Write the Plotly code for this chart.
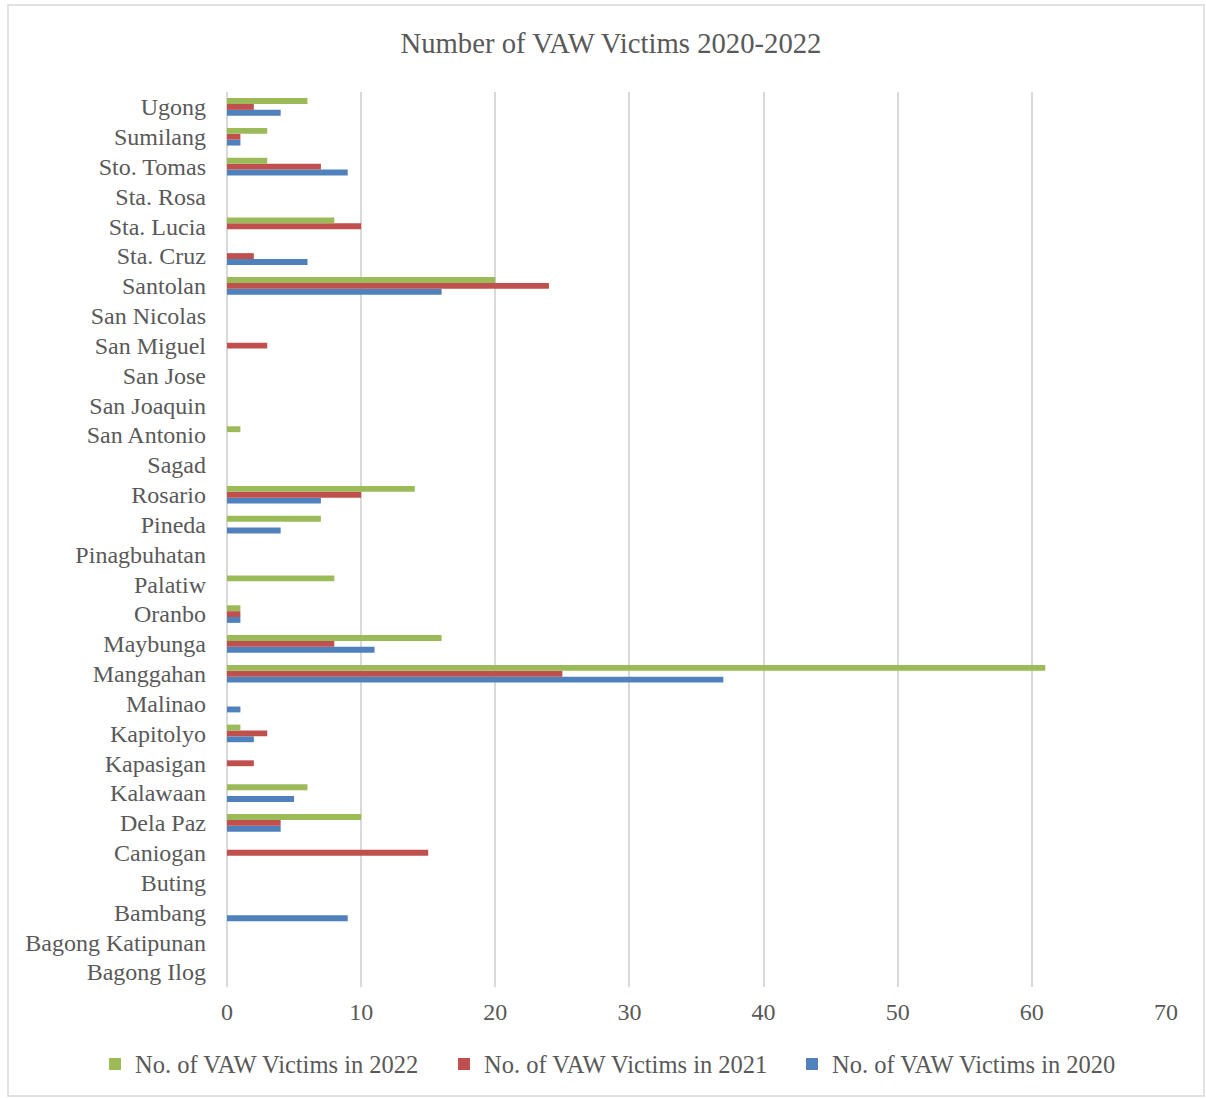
import plotly.graph_objects as go

categories = ["Bagong Ilog", "Bagong Katipunan", "Bambang", "Buting", "Caniogan",
              "Dela Paz", "Kalawaan", "Kapasigan", "Kapitolyo", "Malinao",
              "Manggahan", "Maybunga", "Oranbo", "Palatiw", "Pinagbuhatan",
              "Pineda", "Rosario", "Sagad", "San Antonio", "San Joaquin",
              "San Jose", "San Miguel", "San Nicolas", "Santolan", "Sta. Cruz",
              "Sta. Lucia", "Sta. Rosa", "Sto. Tomas", "Sumilang", "Ugong"]

victims_2020 = [0, 0, 9, 0, 0, 4, 5, 0, 2, 1, 37, 11, 1, 0, 0, 4, 7, 0, 0, 0,
                0, 0, 0, 16, 6, 0, 0, 9, 1, 4]
victims_2021 = [0, 0, 0, 0, 15, 4, 0, 2, 3, 0, 25, 8, 1, 0, 0, 0, 10, 0, 0, 0,
                0, 3, 0, 24, 2, 10, 0, 7, 1, 2]
victims_2022 = [0, 0, 0, 0, 0, 10, 6, 0, 1, 0, 61, 16, 1, 8, 0, 7, 14, 0, 1, 0,
                0, 0, 0, 20, 0, 8, 0, 3, 3, 6]

x_ticks = [0, 10, 20, 30, 40, 50, 60, 70]

series = [
    ("No. of VAW Victims in 2020", victims_2020, "#4F81BD", "legend3", 792),
    ("No. of VAW Victims in 2021", victims_2021, "#C0504D", "legend2", 444),
    ("No. of VAW Victims in 2022", victims_2022, "#9BBB59", "legend", 95),
]

FONT = "Liberation Serif, Times New Roman, serif"
GREY = "#595959"

fig = go.Figure()
legend_layouts = {}
for name, vals, col, leg, lx in series:
    fig.add_trace(go.Bar(
        y=categories, x=vals, name=name, orientation="h", legend=leg,
        marker=dict(color=col, line=dict(width=0)),
    ))
    legend_layouts[leg] = dict(
        orientation="h", xref="container", yref="container",
        x=lx / 1206, xanchor="left", y=1 - 1064 / 1098, yanchor="middle",
        bgcolor="rgba(0,0,0,0)", itemwidth=30,
        font=dict(family=FONT, size=24.5, color=GREY),
    )

fig.update_layout(
    width=1206, height=1098,
    barmode="group", bargap=0.41, bargroupgap=0,
    paper_bgcolor="white", plot_bgcolor="white",
    margin=dict(l=227, r=40, t=92, b=111, autoexpand=False),
    font=dict(family=FONT, color=GREY, size=24),
    title=dict(text="Number of VAW Victims 2020-2022", x=0.5066, xanchor="center",
               y=1 - 43 / 1098, yanchor="middle",
               font=dict(family=FONT, size=28.7, color=GREY)),
    showlegend=True,
    **legend_layouts,
)
fig.update_xaxes(range=[0, 70], tickvals=x_ticks, showgrid=True, gridcolor="#D9D9D9",
                 gridwidth=1.5, zeroline=True, zerolinecolor="#D9D9D9", zerolinewidth=1.5,
                 showline=False, ticks="", ticklabelstandoff=8,
                 tickfont=dict(family=FONT, size=24, color=GREY), fixedrange=True)
fig.update_yaxes(categoryorder="array", categoryarray=categories, showgrid=False,
                 showline=False, ticks="", ticklabelstandoff=20,
                 tickfont=dict(family=FONT, size=24, color=GREY), fixedrange=True)

fig.add_shape(type="rect", xref="paper", yref="paper",
              x0=(8 - 227) / 939, x1=(1204 - 227) / 939,
              y0=(987 - 1096) / 895, y1=(987 - 5) / 895,
              line=dict(color="#D9D9D9", width=1.5), fillcolor="rgba(0,0,0,0)", layer="below")

fig.write_html("out.html")
